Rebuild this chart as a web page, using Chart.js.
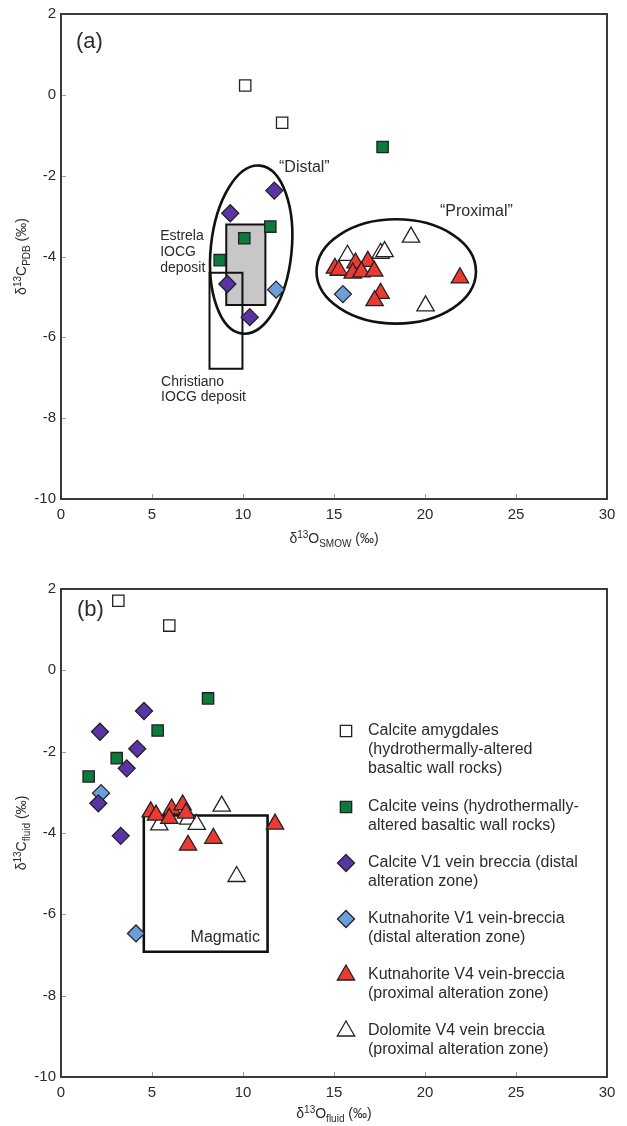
<!DOCTYPE html>
<html><head><meta charset="utf-8">
<script src="https://cdn.jsdelivr.net/npm/chart.js@4.4.1/dist/chart.umd.min.js"></script>
<style>
body{margin:0;background:#fff;width:627px;height:1126px;overflow:hidden;position:relative}
canvas{position:absolute;left:0}
</style></head>
<body>
<canvas id="ca" width="627" height="560" style="top:0px"></canvas>
<canvas id="cb" width="627" height="566" style="top:560px"></canvas>
<script>
// ---------- tick labels ----------
const xTicks = [0, 5, 10, 15, 20, 25, 30];
const yTicks = [2, 0, -2, -4, -6, -8, -10];

// ---------- series names ----------
const seriesNames = [
  'Calcite amygdales (hydrothermally-altered basaltic wall rocks)',
  'Calcite veins (hydrothermally-altered basaltic wall rocks)',
  'Calcite V1 vein breccia (distal alteration zone)',
  'Kutnahorite V1 vein-breccia (distal alteration zone)',
  'Kutnahorite V4 vein-breccia (proximal alteration zone)',
  'Dolomite V4 vein breccia (proximal alteration zone)'
];
const legendLines = [
  ['Calcite amygdales', '(hydrothermally-altered', 'basaltic wall rocks)'],
  ['Calcite veins (hydrothermally-', 'altered basaltic wall rocks)'],
  ['Calcite V1 vein breccia (distal', 'alteration zone)'],
  ['Kutnahorite V1 vein-breccia', '(distal alteration zone)'],
  ['Kutnahorite V4 vein-breccia', '(proximal alteration zone)'],
  ['Dolomite V4 vein breccia', '(proximal alteration zone)']
];

// ---------- panel (a): d18O SMOW vs d13C PDB ----------
const a_amyg_x = [10.12, 12.15];
const a_amyg_y = [0.23, -0.69];
const a_vein_x = [17.67, 11.50, 10.07, 8.72];
const a_vein_y = [-1.29, -3.26, -3.55, -4.09];
const a_calV1_x = [11.72, 9.30, 9.14, 10.37];
const a_calV1_y = [-2.37, -2.93, -4.68, -5.50];
const a_kutV1_x = [11.82, 15.49];
const a_kutV1_y = [-4.82, -4.93];
const a_kutV4_x = [15.05, 15.26, 16.18, 16.86, 16.03, 16.51, 17.21, 17.56, 17.23, 21.92];
const a_kutV4_y = [-4.29, -4.34, -4.16, -4.12, -4.41, -4.38, -4.36, -4.91, -5.09, -4.53];
const a_dol_x = [15.74, 17.56, 17.78, 19.23, 20.03];
const a_dol_y = [-3.97, -3.92, -3.88, -3.52, -5.22];

// ---------- panel (b): d18O fluid vs d13C fluid ----------
const b_amyg_x = [3.15, 5.95];
const b_amyg_y = [1.71, 1.10];
const b_vein_x = [8.08, 5.31, 3.06, 1.52];
const b_vein_y = [-0.69, -1.48, -2.16, -2.61];
const b_calV1_x = [4.56, 2.14, 4.19, 3.61, 2.05, 3.28];
const b_calV1_y = [-1.00, -1.51, -1.93, -2.41, -3.27, -4.07];
const b_kutV1_x = [2.20, 4.12];
const b_kutV1_y = [-3.02, -6.47];
const b_kutV4_x = [4.93, 5.22, 6.08, 6.68, 5.95, 6.87, 6.98, 8.37, 11.76];
const b_kutV4_y = [-3.48, -3.56, -3.41, -3.31, -3.64, -3.51, -4.30, -4.13, -3.78];
const b_dol_x = [8.83, 5.40, 6.99, 7.46, 9.65];
const b_dol_y = [-3.34, -3.80, -3.66, -3.79, -5.07];

// ---------- field outlines (data units) ----------
const estrelaBox = {x0: 9.08, x1: 11.23, y0: -3.21, y1: -5.20};
const christianoBox = {x0: 8.16, x1: 9.97, y0: -4.40, y1: -6.78};
const distalEllipse = {cx: 10.45, cy: -3.83, rx: 2.22, ry: 2.09, rot: 6};
const proximalEllipse = {cx: 18.42, cy: -4.37, rx: 4.38, ry: 1.29, rot: 0};
const magmaticBox = {x0: 4.55, x1: 11.35, y0: -3.57, y1: -6.92};

// ---------- styles ----------
const FONT = '"Liberation Sans", Arial, Helvetica, sans-serif';
const TXT = '#2b2b2b';
const seriesStyle = [
  {ps: 'rect', bg: '#ffffff', r: 8},
  {ps: 'rect', bg: '#0b7a3b', r: 8},
  {ps: 'rectRot', bg: '#5a34a6', r: 8.5},
  {ps: 'rectRot', bg: '#6a9fd9', r: 8.5},
  {ps: 'triangle', bg: '#ec3a33', r: 10},
  {ps: 'triangle', bg: '#ffffff', r: 10}
];

function pts(xs, ys) { return xs.map((x, i) => ({x: x, y: ys[i]})); }
function makeDatasets(groups) {
  return groups.map((g, i) => ({
    label: seriesNames[i],
    data: pts(g[0], g[1]),
    pointStyle: seriesStyle[i].ps,
    pointRadius: seriesStyle[i].r,
    pointBackgroundColor: seriesStyle[i].bg,
    pointBorderColor: '#222',
    pointBorderWidth: 1.3,
    showLine: false
  }));
}

function drawMarker(ctx, ps, r, x, y, bg) {
  ctx.beginPath();
  if (ps === 'rect') {
    const s = Math.SQRT1_2 * r;
    ctx.rect(x - s, y - s, 2 * s, 2 * s);
  } else if (ps === 'rectRot') {
    ctx.moveTo(x, y - r); ctx.lineTo(x + r, y); ctx.lineTo(x, y + r); ctx.lineTo(x - r, y); ctx.closePath();
  } else {
    for (let k = 0; k < 3; k++) {
      const a = k * 2 * Math.PI / 3;
      const px = x + Math.sin(a) * r, py = y - Math.cos(a) * r;
      if (k === 0) ctx.moveTo(px, py); else ctx.lineTo(px, py);
    }
    ctx.closePath();
  }
  ctx.fillStyle = bg; ctx.fill();
  ctx.lineWidth = 1.3; ctx.strokeStyle = '#222'; ctx.stroke();
}

function richText(ctx, segs, cx, cy, size) {
  const small = Math.round(size * 0.72);
  let w = 0;
  segs.forEach(s => { ctx.font = (s.sup || s.sub ? small : size) + 'px ' + FONT; s.w = ctx.measureText(s.t).width; w += s.w; });
  let x = cx - w / 2;
  ctx.textAlign = 'left'; ctx.textBaseline = 'alphabetic';
  segs.forEach(s => {
    ctx.font = (s.sup || s.sub ? small : size) + 'px ' + FONT;
    const dy = s.sup ? -size * 0.38 : (s.sub ? size * 0.28 : 0);
    ctx.fillText(s.t, x, cy + size * 0.35 + dy);
    x += s.w;
  });
}

const figPlugin = {
  id: 'fig',
  beforeDatasetsDraw(chart, args, o) {
    const {ctx, chartArea: ca, scales: {x, y}} = chart;
    ctx.save();
    (o.rects || []).forEach(r => {
      const x1 = x.getPixelForValue(r.box.x0), x2 = x.getPixelForValue(r.box.x1);
      const y1 = y.getPixelForValue(r.box.y0), y2 = y.getPixelForValue(r.box.y1);
      ctx.beginPath();
      ctx.rect(Math.min(x1, x2), Math.min(y1, y2), Math.abs(x2 - x1), Math.abs(y2 - y1));
      if (r.fill) { ctx.fillStyle = r.fill; ctx.fill(); }
      ctx.lineWidth = r.lw; ctx.strokeStyle = '#111'; ctx.stroke();
    });
    (o.ellipses || []).forEach(e => {
      const cx = x.getPixelForValue(e.cx), cy = y.getPixelForValue(e.cy);
      const rx = Math.abs(x.getPixelForValue(e.cx + e.rx) - cx);
      const ry = Math.abs(y.getPixelForValue(e.cy + e.ry) - cy);
      ctx.beginPath();
      ctx.ellipse(cx, cy, rx, ry, e.rot * Math.PI / 180, 0, 2 * Math.PI);
      ctx.lineWidth = 2.6; ctx.strokeStyle = '#111'; ctx.stroke();
    });
    // inward tick marks
    ctx.strokeStyle = '#9a9a9a'; ctx.lineWidth = 1;
    xTicks.forEach(v => {
      const px = Math.round(x.getPixelForValue(v)) + 0.5;
      ctx.beginPath(); ctx.moveTo(px, ca.bottom); ctx.lineTo(px, ca.bottom - 5); ctx.stroke();
    });
    yTicks.forEach(v => {
      const py = Math.round(y.getPixelForValue(v)) + 0.5;
      ctx.beginPath(); ctx.moveTo(ca.left, py); ctx.lineTo(ca.left + 5, py); ctx.stroke();
    });
    // frame
    ctx.lineWidth = 2; ctx.strokeStyle = '#3a3a3a';
    ctx.strokeRect(ca.left, ca.top, ca.right - ca.left, ca.bottom - ca.top);
    ctx.restore();
  },
  afterDraw(chart, args, o) {
    const {ctx, chartArea: ca, scales: {x, y}} = chart;
    ctx.save();
    ctx.fillStyle = TXT;
    (o.texts || []).forEach(t => {
      ctx.font = t.size + 'px ' + FONT;
      ctx.textAlign = t.align || 'left';
      ctx.textBaseline = 'middle';
      ctx.fillText(t.text, x.getPixelForValue(t.x), y.getPixelForValue(t.y));
    });
    // axis titles
    richText(ctx, o.xTitle, (ca.left + ca.right) / 2, ca.bottom + o.xTitleDy, 14);
    ctx.save();
    ctx.translate(ca.left - 40, (ca.top + ca.bottom) / 2);
    ctx.rotate(-Math.PI / 2);
    richText(ctx, o.yTitle, 0, 0, 14);
    ctx.restore();
    // legend
    if (o.legend) {
      const L = o.legend;
      L.rows.forEach((ry, i) => {
        const st = seriesStyle[i];
        drawMarker(ctx, st.ps, st.r, ca.left + L.markerDx, ca.top + ry, st.bg);
        ctx.fillStyle = TXT;
        ctx.font = L.size + 'px ' + FONT;
        ctx.textAlign = 'left'; ctx.textBaseline = 'middle';
        legendLines[i].forEach((line, j) => {
          ctx.fillText(line, ca.left + L.textDx, ca.top + ry + j * L.lineH);
        });
      });
    }
    ctx.restore();
  }
};

function scalesCfg() {
  const tick = {color: TXT, font: {family: FONT, size: 15}};
  return {
    x: {type: 'linear', min: 0, max: 30,
        afterBuildTicks: s => { s.ticks = xTicks.map(v => ({value: v})); },
        ticks: Object.assign({padding: 7, maxRotation: 0, callback: v => String(v)}, tick),
        grid: {display: false, drawTicks: false}, border: {display: false},
        afterFit: s => { s.height = s.chart.canvas.height - s.chart.options.bottomEdge; }},
    y: {type: 'linear', min: -10, max: 2,
        afterBuildTicks: s => { s.ticks = yTicks.map(v => ({value: v})); },
        ticks: Object.assign({padding: 5, callback: v => String(v)}, tick),
        grid: {display: false, drawTicks: false}, border: {display: false},
        afterFit: s => { s.width = 61; }}
  };
}

new Chart(document.getElementById('ca'), {
  type: 'scatter',
  data: {datasets: makeDatasets([
    [a_amyg_x, a_amyg_y], [a_vein_x, a_vein_y], [a_calV1_x, a_calV1_y],
    [a_kutV1_x, a_kutV1_y], [a_kutV4_x, a_kutV4_y], [a_dol_x, a_dol_y]])},
  options: {
    responsive: false, animation: false, devicePixelRatio: 1, bottomEdge: 499,
    layout: {padding: {top: 12, right: 20, left: 0, bottom: 0}},
    plugins: {
      legend: {display: false}, tooltip: {enabled: false},
      fig: {
        rects: [{box: estrelaBox, fill: '#c7c7c7', lw: 2}, {box: christianoBox, fill: null, lw: 2}],
        ellipses: [distalEllipse, proximalEllipse],
        texts: [
          {text: '(a)', x: 0.82, y: 1.31, size: 22},
          {text: '\u201CDistal\u201D', x: 11.98, y: -1.80, size: 16},
          {text: '\u201CProximal\u201D', x: 20.82, y: -2.90, size: 16},
          {text: 'Estrela', x: 5.45, y: -3.50, size: 14},
          {text: 'IOCG', x: 5.45, y: -3.89, size: 14},
          {text: 'deposit', x: 5.45, y: -4.28, size: 14},
          {text: 'Christiano', x: 5.50, y: -7.12, size: 14},
          {text: 'IOCG deposit', x: 5.50, y: -7.49, size: 14}
        ],
        xTitleDy: 39,
        xTitle: [{t: '\u03B4'}, {t: '13', sup: true}, {t: 'O'}, {t: 'SMOW', sub: true}, {t: ' (\u2030)'}],
        yTitle: [{t: '\u03B4'}, {t: '13', sup: true}, {t: 'C'}, {t: 'PDB', sub: true}, {t: ' (\u2030)'}]
      }
    },
    scales: scalesCfg()
  },
  plugins: [figPlugin]
});

new Chart(document.getElementById('cb'), {
  type: 'scatter',
  data: {datasets: makeDatasets([
    [b_amyg_x, b_amyg_y], [b_vein_x, b_vein_y], [b_calV1_x, b_calV1_y],
    [b_kutV1_x, b_kutV1_y], [b_kutV4_x, b_kutV4_y], [b_dol_x, b_dol_y]])},
  options: {
    responsive: false, animation: false, devicePixelRatio: 1, bottomEdge: 517,
    layout: {padding: {top: 29, right: 20, left: 0, bottom: 0}},
    plugins: {
      legend: {display: false}, tooltip: {enabled: false},
      fig: {
        rects: [{box: magmaticBox, fill: null, lw: 2.6}],
        ellipses: [],
        texts: [
          {text: '(b)', x: 0.88, y: 1.48, size: 22},
          {text: 'Magmatic', x: 10.93, y: -6.58, size: 16, align: 'right'}
        ],
        legend: {markerDx: 285, textDx: 307, size: 16, lineH: 18.8, rows: [142, 218, 274, 330, 386, 442]},
        xTitleDy: 36,
        xTitle: [{t: '\u03B4'}, {t: '13', sup: true}, {t: 'O'}, {t: 'fluid', sub: true}, {t: ' (\u2030)'}],
        yTitle: [{t: '\u03B4'}, {t: '13', sup: true}, {t: 'C'}, {t: 'fluid', sub: true}, {t: ' (\u2030)'}]
      }
    },
    scales: scalesCfg()
  },
  plugins: [figPlugin]
});
</script>
</body></html>
